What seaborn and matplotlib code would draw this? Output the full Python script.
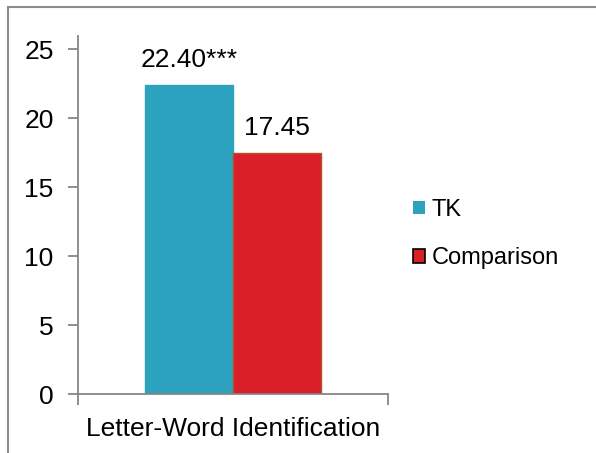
import matplotlib
matplotlib.use("Agg")
import matplotlib.pyplot as plt
import seaborn as sns
import pandas as pd
from matplotlib.patches import Rectangle
from matplotlib.ticker import FixedLocator

categories = ["Letter-Word Identification"]
groups = ["TK", "Comparison"]
values = [22.40, 17.45]
value_labels = ["22.40***", "17.45"]
colors = ["#2CA2BF", "#DA1F28"]
edge_colors = ["#2CA2BF", "#B5522A"]
yticks = [0, 5, 10, 15, 20, 25]

sns.set_style("white")
plt.rcParams["font.family"] = ["Liberation Sans", "DejaVu Sans"]
plt.rcParams["text.color"] = "black"
plt.rcParams["xtick.labelcolor"] = "black"
plt.rcParams["ytick.labelcolor"] = "black"

df = pd.DataFrame({"category": categories * len(groups), "group": groups, "value": values})

fig = plt.figure(figsize=(5.96, 4.53), dpi=100)
ax = fig.add_axes([78 / 596, 59 / 453, 310 / 596, 358 / 453])

sns.barplot(data=df, x="category", y="value", hue="group", hue_order=groups,
            palette=colors, saturation=1, width=0.568, dodge=True, ax=ax, legend=False)

for patch, ec in zip(ax.patches, edge_colors):
    patch.set_edgecolor(ec)
    patch.set_linewidth(1.0)

for patch, lab in zip(ax.patches, value_labels):
    cx = patch.get_x() + patch.get_width() / 2
    ax.annotate(lab, (cx, patch.get_height()), xytext=(0, 9.5), textcoords="offset points",
                ha="center", va="bottom", fontsize=19, color="black")

ax.set_xlim(-0.5, 0.5)
ax.set_ylim(0, 25.95)
ax.set_yticks(yticks)
ax.set_xlabel("")
ax.set_ylabel("")

spine_color = "#868686"
for side in ["top", "right"]:
    ax.spines[side].set_visible(False)
for side in ["left", "bottom"]:
    ax.spines[side].set_color(spine_color)
    ax.spines[side].set_linewidth(1.3)

ax.tick_params(axis="y", direction="out", length=7, width=1.3, color=spine_color,
               labelsize=19, pad=10.5, left=True)
ax.tick_params(axis="x", which="major", length=0, labelsize=19, pad=16.5)
ax.xaxis.set_minor_locator(FixedLocator([-0.5, 0.5]))
ax.tick_params(axis="x", which="minor", direction="out", length=8, width=1.3,
               color=spine_color, bottom=True)

# legend squares
handles = [Rectangle((0, 0), 1, 1, facecolor=colors[0], edgecolor="none"),
           Rectangle((0, 0), 1, 1, facecolor=colors[1], edgecolor="black", linewidth=1.2)]
fig.legend(handles, groups, loc="upper left", bbox_to_anchor=(413 / 596, 1 - 199 / 453),
           frameon=False, fontsize=17, handlelength=0.5, handleheight=0.5,
           handletextpad=0.3, labelspacing=1.12, borderaxespad=0, borderpad=0)

# outer frame
fig.patches.append(Rectangle((8 / 596, -0.1), 1.2, 1 - 7 / 453 + 0.1, transform=fig.transFigure,
                             fill=False, edgecolor="#8C8C8C", linewidth=1.5, figure=fig))

fig.savefig("out.png", dpi=100)
